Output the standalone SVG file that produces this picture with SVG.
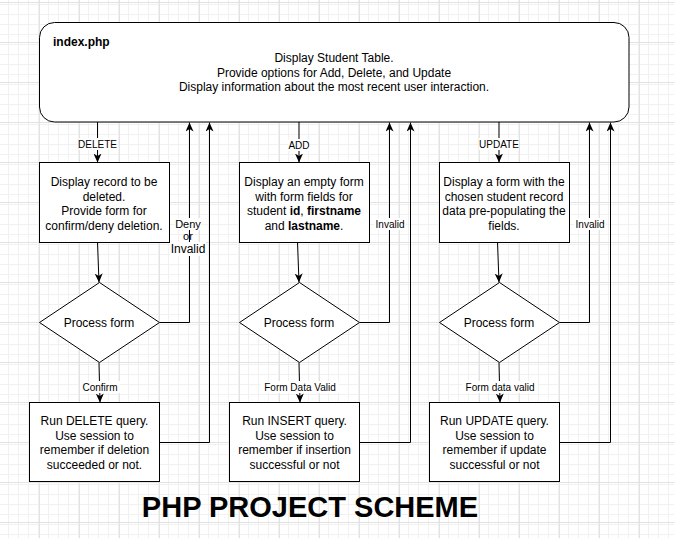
<svg xmlns="http://www.w3.org/2000/svg" width="674" height="538" viewBox="0 0 674 538">
<style>
text{font-family:"Liberation Sans",Arial,sans-serif;fill:#000}
.t{font-size:12px;text-anchor:middle}
.l{font-size:10px;text-anchor:middle}
.b{font-weight:bold}
.shape{fill:#fff;stroke:#000;stroke-width:1}
.edge{fill:none;stroke:#000;stroke-width:1}
.lb{fill:#fff}
</style>
<defs>
<pattern id="minor" width="10" height="10" patternUnits="userSpaceOnUse" x="-1" y="2">
<path d="M0.5,0V10M0,0.5H10" fill="none" stroke="#f1f1f1" stroke-width="1"/>
</pattern>
<pattern id="major" width="40" height="40" patternUnits="userSpaceOnUse" x="-1" y="2">
<rect width="40" height="40" fill="url(#minor)"/>
<path d="M0.5,0V40M0,0.5H40" fill="none" stroke="#e2e2e2" stroke-width="1"/>
</pattern>
<marker id="arr" viewBox="0 0 9 8" refX="9" refY="4" markerWidth="9" markerHeight="8" markerUnits="userSpaceOnUse" orient="auto">
<path d="M0,0 L9,4 L0,8 L2.5,4 z" fill="#000"/>
</marker>
</defs>
<rect width="674" height="538" fill="#fff"/>
<rect width="674" height="538" fill="url(#major)"/>

<g id="connectors">
<!-- column 1 -->
<line class="edge" x1="97.5" y1="122" x2="97.5" y2="162.5" marker-end="url(#arr)"/>
<line class="edge" x1="97.5" y1="242.5" x2="99" y2="282.5" marker-end="url(#arr)"/>
<line class="edge" x1="99" y1="362.5" x2="100" y2="402.5" marker-end="url(#arr)"/>
<polyline class="edge" points="159.5,322.5 189.5,322.5 189.5,122.5" marker-end="url(#arr)"/>
<polyline class="edge" points="159.5,442.5 209.5,442.5 209.5,122.5" marker-end="url(#arr)"/>
<!-- column 2 -->
<line class="edge" x1="299" y1="122" x2="299" y2="162.5" marker-end="url(#arr)"/>
<line class="edge" x1="297.5" y1="242.5" x2="299" y2="282.5" marker-end="url(#arr)"/>
<line class="edge" x1="299" y1="362.5" x2="300" y2="402.5" marker-end="url(#arr)"/>
<polyline class="edge" points="359.5,322.5 389.5,322.5 389.5,122.5" marker-end="url(#arr)"/>
<polyline class="edge" points="359.5,442.5 410.5,442.5 410.5,122.5" marker-end="url(#arr)"/>
<!-- column 3 -->
<line class="edge" x1="499" y1="122" x2="499" y2="162.5" marker-end="url(#arr)"/>
<line class="edge" x1="497.5" y1="242.5" x2="499" y2="282.5" marker-end="url(#arr)"/>
<line class="edge" x1="499" y1="362.5" x2="500" y2="402.5" marker-end="url(#arr)"/>
<polyline class="edge" points="559.5,322.5 589.5,322.5 589.5,122.5" marker-end="url(#arr)"/>
<polyline class="edge" points="559.5,442.5 610.5,442.5 610.5,122.5" marker-end="url(#arr)"/>
<!-- labels -->
<rect class="lb" x="79" y="138" width="37" height="12"/>
<text class="l" x="97.5" y="147.5">DELETE</text>
<rect class="lb" x="288" y="139" width="22" height="12"/>
<text class="l" x="299" y="148.5">ADD</text>
<rect class="lb" x="479" y="138" width="40" height="12"/>
<text class="l" x="499" y="147.5">UPDATE</text>
<rect class="lb" x="80" y="381" width="40" height="12"/>
<text class="l" x="100" y="390.5">Confirm</text>
<rect class="lb" x="261" y="381" width="78" height="12"/>
<text class="l" x="300" y="390.5">Form Data Valid</text>
<rect class="lb" x="462" y="381" width="76" height="12"/>
<text class="l" x="500" y="390.5">Form data valid</text>
<rect class="lb" x="374" y="218" width="32" height="12"/>
<text class="l" x="390" y="227.5">Invalid</text>
<rect class="lb" x="574" y="218" width="32" height="12"/>
<text class="l" x="590" y="227.5">Invalid</text>
<rect class="lb" x="175" y="218" width="27" height="12"/>
<text class="l" x="188" y="228" style="font-size:11px">Deny</text>
<text class="l" x="188" y="240" style="font-size:11px">or</text>
<rect class="lb" x="170" y="242" width="36" height="14"/>
<text class="t" x="188" y="253">Invalid</text>
</g>

<g id="index">
<rect class="shape" x="39.5" y="22.5" width="589.5" height="99.5" rx="15" ry="15"/>
<text class="b" x="53" y="45.5" style="font-size:12px">index.php</text>
<text class="t" x="334" y="62">Display Student Table.</text>
<text class="t" x="334" y="76.5">Provide options for Add, Delete, and Update</text>
<text class="t" x="334" y="91">Display information about the most recent user interaction.</text>
</g>

<g id="delete-display">
<rect class="shape" x="39.5" y="162.5" width="130" height="80"/>
<text class="t" x="104" y="186">Display record to be</text>
<text class="t" x="104" y="200.5">deleted.</text>
<text class="t" x="104" y="215">Provide form for</text>
<text class="t" x="104" y="229.5">confirm/deny deletion.</text>
</g>
<g id="add-display">
<rect class="shape" x="239.5" y="162.5" width="130" height="80"/>
<text class="t" x="304" y="186">Display an empty form</text>
<text class="t" x="304" y="200.5">with form fields for</text>
<text class="t" x="304" y="215">student <tspan class="b">id</tspan>, <tspan class="b">firstname</tspan></text>
<text class="t" x="304" y="229.5">and <tspan class="b">lastname</tspan>.</text>
</g>
<g id="update-display">
<rect class="shape" x="439.5" y="162.5" width="130" height="80"/>
<text class="t" x="504" y="186">Display a form with the</text>
<text class="t" x="504" y="200.5">chosen student record</text>
<text class="t" x="504" y="215">data pre-populating the</text>
<text class="t" x="504" y="229.5">fields.</text>
</g>

<g id="delete-process">
<polygon class="shape" points="99.5,282.5 159.5,322.5 99.5,362.5 39.5,322.5"/>
<text class="t" x="99" y="327">Process form</text>
</g>
<g id="add-process">
<polygon class="shape" points="299.5,282.5 359.5,322.5 299.5,362.5 239.5,322.5"/>
<text class="t" x="299" y="327">Process form</text>
</g>
<g id="update-process">
<polygon class="shape" points="499.5,282.5 559.5,322.5 499.5,362.5 439.5,322.5"/>
<text class="t" x="499" y="327">Process form</text>
</g>

<g id="delete-query">
<rect class="shape" x="29.5" y="402.5" width="130" height="79"/>
<text class="t" x="94.5" y="425">Run DELETE query.</text>
<text class="t" x="94.5" y="439.5">Use session to</text>
<text class="t" x="94.5" y="454">remember if deletion</text>
<text class="t" x="94.5" y="468.5">succeeded or not.</text>
</g>
<g id="insert-query">
<rect class="shape" x="229.5" y="402.5" width="130" height="79"/>
<text class="t" x="294.5" y="425">Run INSERT query.</text>
<text class="t" x="294.5" y="439.5">Use session to</text>
<text class="t" x="294.5" y="454">remember if insertion</text>
<text class="t" x="294.5" y="468.5">successful or not</text>
</g>
<g id="update-query">
<rect class="shape" x="429.5" y="402.5" width="130" height="79"/>
<text class="t" x="494.5" y="425">Run UPDATE query.</text>
<text class="t" x="494.5" y="439.5">Use session to</text>
<text class="t" x="494.5" y="454">remember if update</text>
<text class="t" x="494.5" y="468.5">successful or not</text>
</g>

<g id="title">
<text class="b" x="310" y="517" style="font-size:29px;text-anchor:middle">PHP PROJECT SCHEME</text>
</g>
</svg>
